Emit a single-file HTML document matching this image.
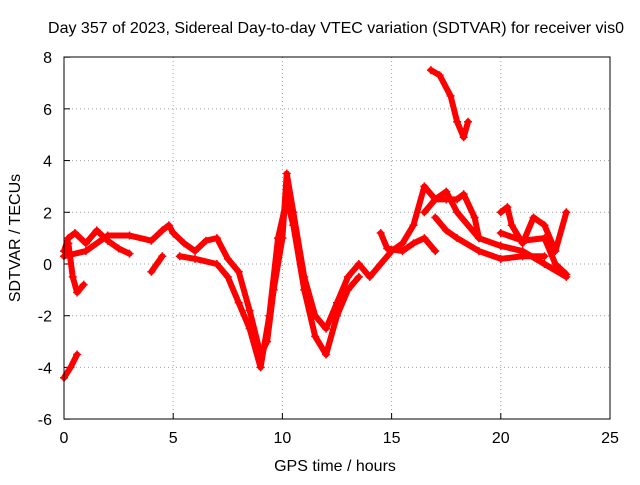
<!DOCTYPE html>
<html><head><meta charset="utf-8"><style>
body{margin:0;background:#fff;}
svg text{font-family:"Liberation Sans",sans-serif;font-size:16px;fill:#000;}
</style></head><body>
<svg width="640" height="480" xmlns="http://www.w3.org/2000/svg">
<text x="336" y="33" text-anchor="middle">Day 357 of 2023, Sidereal Day-to-day VTEC variation (SDTVAR) for receiver vis0</text>
<text transform="translate(20,238) rotate(-90)" text-anchor="middle">SDTVAR / TECUs</text>
<text x="335" y="471" text-anchor="middle">GPS time / hours</text>
<g id="grid"></g>
<g id="axes"></g>
<g id="series"></g>
<rect x="64" y="57" width="546" height="362" fill="none" stroke="#000" stroke-width="1"/>
</svg>
<script>
const xTicks=[0,5,10,15,20,25];
const yTicks=[-6,-4,-2,0,2,4,6,8];
const trackA=[[0,0.5],[0.2,1],[0.5,1.2],[1,0.8],[1.5,1.3],[2,0.9],[2.5,0.6],[3,0.4]];
const trackB=[[0,-4.4],[0.3,-4],[0.6,-3.5]];
const trackC=[[0.2,0.8],[0.4,-0.5],[0.6,-1.1],[0.9,-0.8]];
const trackMain=[[0,0.3],[1,0.5],[2,1.1],[3,1.1],[4,0.9],[4.5,1.3],[4.8,1.5],[5,1.2],[5.5,0.8],[6,0.5],[6.5,0.9],[7,1],[7.5,0.2],[8,-0.3],[8.5,-1.8],[9,-3.5],[9.3,-3],[9.6,-1],[10,1],[10.2,3.5],[10.5,2],[11,-0.5],[11.5,-2],[12,-2.5],[12.5,-1.5],[13,-0.5],[13.5,0],[14,-0.5],[15,0.5],[15.5,0.8],[16,1.5],[16.5,3],[17,2.5],[17.5,2.8],[18,2],[19,1],[20,0.7],[21,0.5],[22,0],[23,-0.5]];
const trackD=[[5.3,0.3],[6,0.2],[7,0],[7.5,-0.5],[8,-1.5],[8.5,-2.5],[9,-4],[9.4,-2],[9.8,1],[10.2,2.5],[10.5,1.5],[11,-1],[11.5,-2.8],[12,-3.5],[12.5,-2],[13,-1],[13.5,-0.5]];
const trackE=[[4,-0.3],[4.5,0.3]];
const trackF=[[14.5,1.2],[14.8,0.6],[15.5,0.5],[16,0.8],[16.5,1],[17,0.5]];
const trackG=[[16.8,7.5],[17.2,7.3],[17.7,6.5],[18,5.5],[18.3,4.9],[18.5,5.5]];
const trackH=[[16.5,2],[17,2.5],[17.5,2.5],[18,2.5],[18.3,2.7],[18.8,1.8],[19,1]];
const trackI=[[20,2],[20.3,2.2],[20.5,1.5],[21,0.8],[21.5,1.8],[22,1.5],[22.5,0.5],[23,2]];
const trackJ=[[20,1.2],[21,0.9],[22,1],[22.5,0],[23,-0.4]];
const trackK=[[17,1.8],[17.5,1.3],[18,1],[19,0.5],[20,0.2],[21,0.3],[22,0.3]];
const tracks=[trackA,trackB,trackC,trackMain,trackD,trackE,trackF,trackG,trackH,trackI,trackJ,trackK];
const NS="http://www.w3.org/2000/svg";
const X=v=>64+v*(546/25);
const Y=v=>264-v*(362/14);
const grid=document.getElementById('grid'),axes=document.getElementById('axes'),ser=document.getElementById('series');
function mk(tag,at,p){const e=document.createElementNS(NS,tag);for(const k in at)e.setAttribute(k,at[k]);p.appendChild(e);return e;}
xTicks.forEach(t=>{
 const x=X(t);
 if(t>0&&t<25){const g=mk('line',{x1:x,x2:x,y1:57,y2:419,stroke:'#a0a0a0','stroke-dasharray':'1,3'},grid);
 
 }
 const tk=mk('line',{x1:x,x2:x,y1:419,y2:413,stroke:'#000'},axes);
 
 
 const l=mk('text',{x:x,y:443,'text-anchor':'middle'},axes);l.textContent=t;
 
 
});
yTicks.forEach(t=>{
 const y=Y(t);
 if(t>-6&&t<8){const g=mk('line',{x1:64,x2:610,y1:y,y2:y,stroke:'#a0a0a0','stroke-dasharray':'1,3'},grid);
 
 }
 const tk=mk('line',{x1:64,x2:70,y1:y,y2:y,stroke:'#000'},axes);
 
 
 const l=mk('text',{x:52,y:y+6,'text-anchor':'end'},axes);l.textContent=t;
 
 
});
tracks.forEach(tr=>{
 const pl=mk('polyline',{points:tr.map(p=>X(p[0])+','+Y(p[1])).join(' '),fill:'none',stroke:'#ff0000','stroke-width':6,'stroke-linejoin':'round','stroke-linecap':'round'},ser);
 
 
 tr.forEach(p=>{
  const x=X(p[0]),y=Y(p[1]);
  const m=mk('path',{d:`M${x-4},${y}H${x+4}M${x},${y-4}V${y+4}`,stroke:'#ff0000','stroke-width':1.5},ser);
  
  
 });
});
</script>
</body></html>
